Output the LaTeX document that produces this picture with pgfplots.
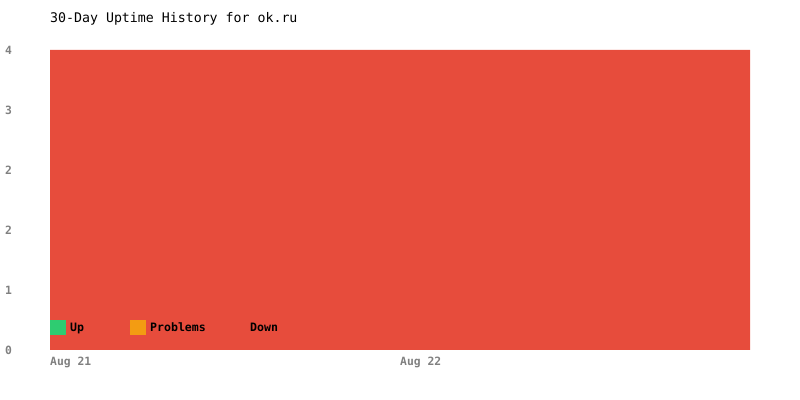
\documentclass[border=0pt]{standalone}
\usepackage{pgfplots}
\pgfplotsset{compat=1.18}
\usepackage{fontspec}
\setmonofont{DejaVu Sans Mono}
\definecolor{upc}{HTML}{2ECC71}
\definecolor{probc}{HTML}{F39C12}
\definecolor{downc}{HTML}{E74C3C}
\definecolor{tickc}{HTML}{808080}
\begin{document}
\begin{tikzpicture}
\path[use as bounding box] (-50bp,-50bp) rectangle (750bp,350bp);
\begin{axis}[
  at={(0,0)}, anchor=south west,
  scale only axis, width=700bp, height=300bp,
  xmin=0, xmax=2, ymin=0, ymax=4,
  ybar stacked, bar width=1,
  axis line style={draw=none}, tick style={draw=none},
  xtick={0,1}, xticklabels={Aug 21,Aug 22},
  ytick={0,0.8,1.6,2.4,3.2,4}, yticklabels={0,1,2,2,3,4},
  xticklabel style={anchor=north west, inner sep=0pt, yshift=-7bp, font=\ttfamily\bfseries\fontsize{11.4}{13}\selectfont, text=tickc},
  yticklabel style={anchor=west, inner sep=0pt, xshift=-45bp, font=\ttfamily\bfseries\fontsize{11.4}{13}\selectfont, text=tickc},
  title={30-Day Uptime History for ok.ru},
  title style={at={(0,1)}, anchor=base west, inner sep=0pt, yshift=22bp, font=\ttfamily\fontsize{13.3}{16}\selectfont},
  legend columns=-1,
  legend style={draw=none, fill=none, at={(0,0.075)}, anchor=west, inner sep=0pt,
    nodes={inner sep=0pt, text height=9.5bp, text depth=2.5bp, font=\ttfamily\bfseries\fontsize{11.6}{13}\selectfont},
    /tikz/column sep=0pt},
  legend image code/.code={\fill[#1] (0bp,-7.5bp) rectangle (16bp,7.5bp);},
]
\addplot[fill=upc, draw=none] coordinates {(0.5,0) (1.5,0)};
\addplot[fill=probc, draw=none] coordinates {(0.5,0) (1.5,0)};
\addplot[fill=downc, draw=none] coordinates {(0.5,4) (1.5,4)};
\legend{\makebox[64bp][l]{\hspace{4bp}Up},\makebox[84bp][l]{\hspace{4bp}Problems},\hspace{4bp}Down}
\end{axis}
\end{tikzpicture}
\end{document}
